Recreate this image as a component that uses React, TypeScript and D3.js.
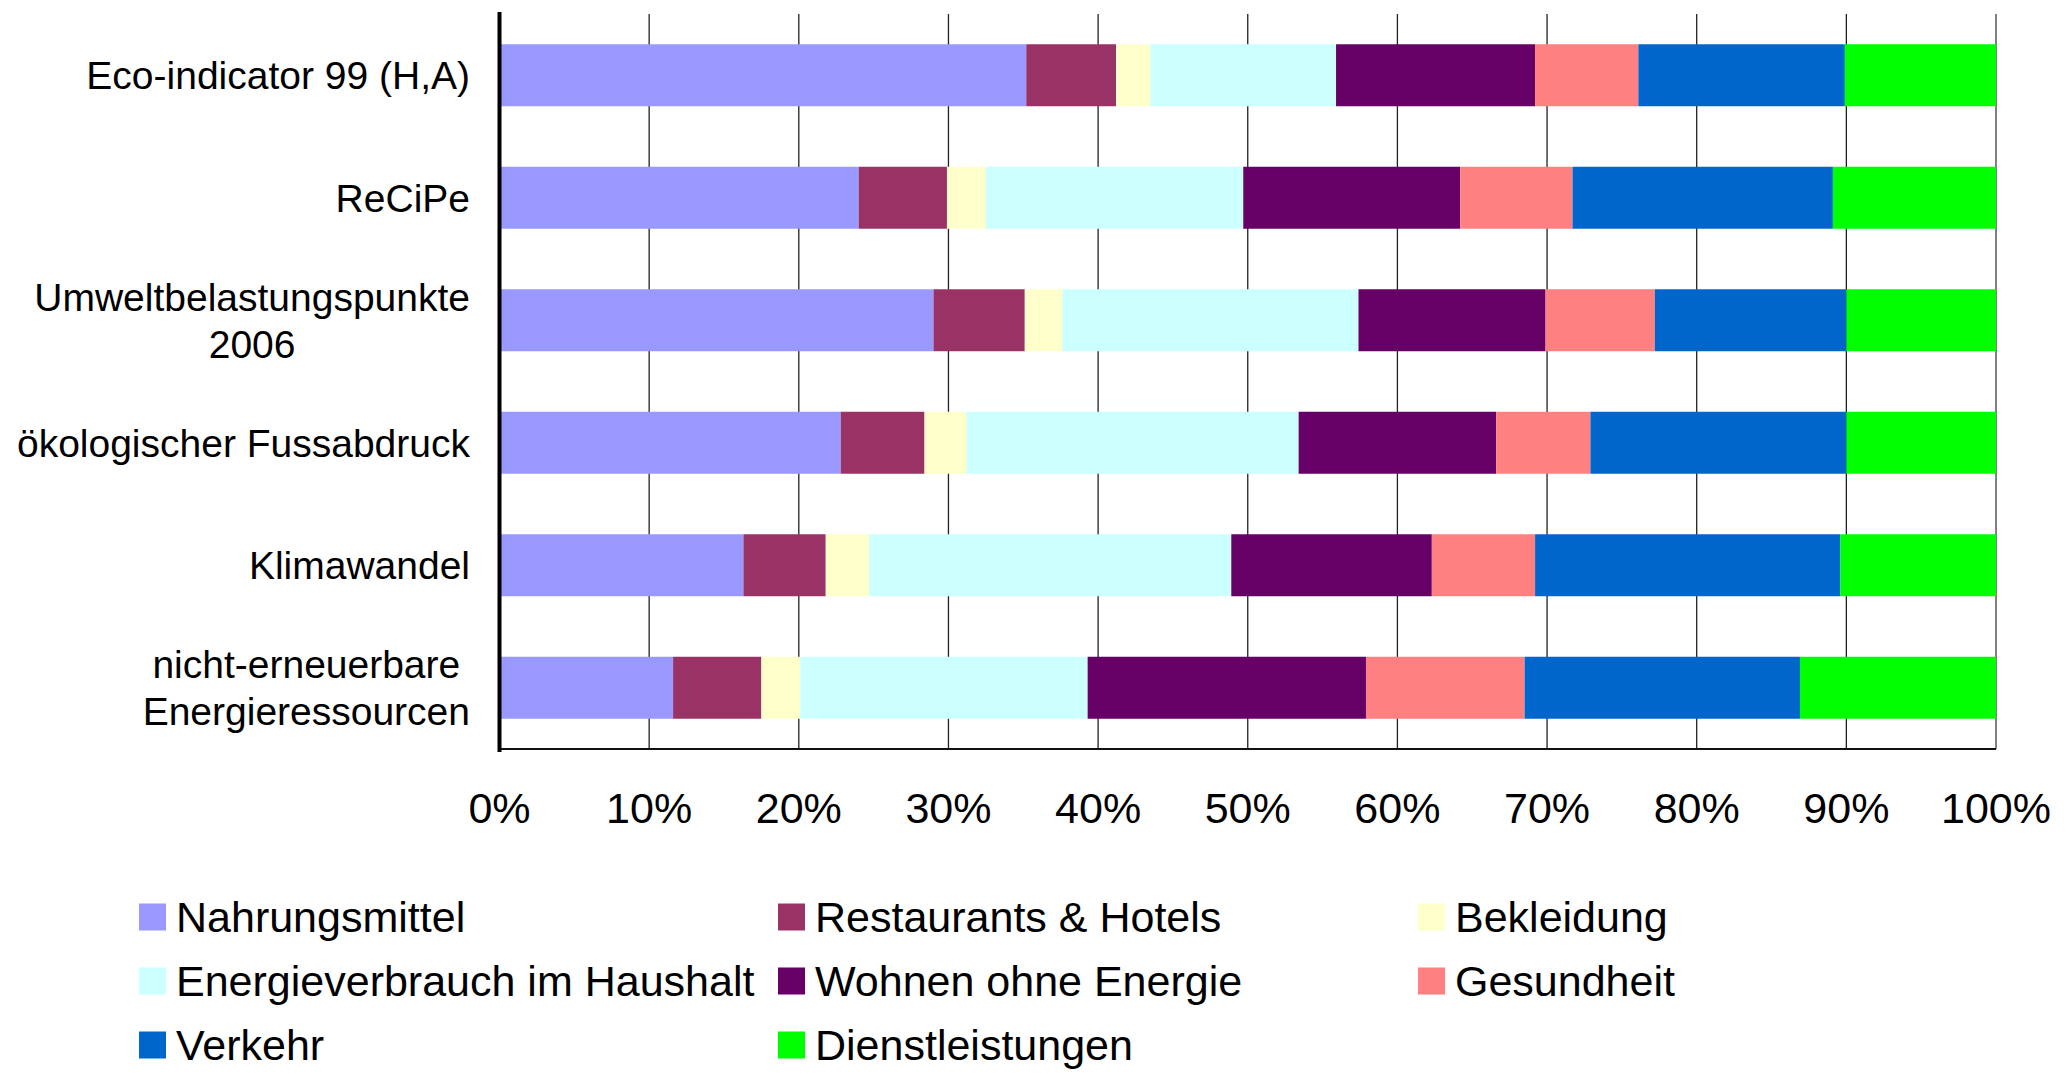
import React, { useEffect, useRef } from "react";
import * as d3 from "d3";

const categories = [
  "Eco-indicator 99 (H,A)",
  "ReCiPe",
  "Umweltbelastungspunkte\n2006",
  "ökologischer Fussabdruck",
  "Klimawandel",
  "nicht-erneuerbare\nEnergieressourcen",
];

const seriesNames = [
  "Nahrungsmittel",
  "Restaurants & Hotels",
  "Bekleidung",
  "Energieverbrauch im Haushalt",
  "Wohnen ohne Energie",
  "Gesundheit",
  "Verkehr",
  "Dienstleistungen",
];

const nahrungsmittel = [35.2, 24.0, 29.0, 22.8, 16.3, 11.6];
const restaurants = [6.0, 5.9, 6.1, 5.6, 5.5, 5.9];
const bekleidung = [2.3, 2.6, 2.5, 2.8, 2.9, 2.6];
const energie = [12.4, 17.2, 19.8, 22.2, 24.2, 19.2];
const wohnen = [13.3, 14.5, 12.5, 13.2, 13.4, 18.6];
const gesundheit = [6.9, 7.5, 7.3, 6.3, 6.9, 10.6];
const verkehr = [13.8, 17.4, 12.8, 17.1, 20.4, 18.4];
const dienstleistungen = [10.1, 10.9, 10.0, 10.0, 10.4, 13.1];

const seriesValues = [
  nahrungsmittel,
  restaurants,
  bekleidung,
  energie,
  wohnen,
  gesundheit,
  verkehr,
  dienstleistungen,
];

const colors = [
  "#9999FF",
  "#993366",
  "#FFFFCC",
  "#CCFFFF",
  "#660066",
  "#FF8080",
  "#0066CC",
  "#00FF00",
];

const xTicks = [0, 0.1, 0.2, 0.3, 0.4, 0.5, 0.6, 0.7, 0.8, 0.9, 1.0];

const W = 2067;
const H = 1074;
const FONT = "'Liberation Sans', Arial, sans-serif";

export default function App() {
  const ref = useRef<SVGSVGElement | null>(null);

  useEffect(() => {
    document.body.style.margin = "0";
    const svg = d3.select(ref.current);
    svg.selectAll("*").remove();

    const left = 499.5;
    const right = 1996;
    const top = 14;
    const bottom = 749;

    const x = d3.scaleLinear().domain([0, 1]).range([left, right]);
    const y = d3
      .scaleBand<string>()
      .domain(categories)
      .range([top, bottom])
      .paddingInner(0.494)
      .paddingOuter(0.247);

    const table = categories.map((c, i) => {
      const row: any = { cat: c };
      seriesNames.forEach((s, j) => (row[s] = seriesValues[j][i]));
      return row;
    });
    const stack = d3
      .stack<any>()
      .keys(seriesNames)
      .offset(d3.stackOffsetExpand);
    const layers = stack(table);

    // gridlines
    svg
      .append("g")
      .selectAll("line")
      .data(xTicks.slice(1))
      .join("line")
      .attr("x1", (d) => x(d))
      .attr("x2", (d) => x(d))
      .attr("y1", top)
      .attr("y2", bottom)
      .attr("stroke", (d) => (d === 1 ? "#808080" : "#222"))
      .attr("stroke-width", (d) => (d === 1 ? 2 : 1.3));

    // bars
    const g = svg.append("g");
    layers.forEach((layer, li) => {
      g.append("g")
        .attr("fill", colors[li])
        .selectAll("rect")
        .data(layer)
        .join("rect")
        .attr("x", (d) => x(d[0]))
        .attr("width", (d) => x(d[1]) - x(d[0]))
        .attr("y", (d) => y(d.data.cat) as number)
        .attr("height", y.bandwidth());
    });

    // axes lines
    svg
      .append("line")
      .attr("x1", left)
      .attr("x2", right)
      .attr("y1", bottom)
      .attr("y2", bottom)
      .attr("stroke", "#111")
      .attr("stroke-width", 2);
    svg
      .append("line")
      .attr("x1", left)
      .attr("x2", left)
      .attr("y1", top - 2)
      .attr("y2", bottom + 3)
      .attr("stroke", "#000")
      .attr("stroke-width", 4);

    // x tick labels
    const fmt = d3.format(".0%");
    svg
      .append("g")
      .selectAll("text")
      .data(xTicks)
      .join("text")
      .attr("x", (d) => x(d))
      .attr("y", 823)
      .attr("text-anchor", "middle")
      .attr("font-family", FONT)
      .attr("font-size", 43)
      .attr("fill", "#000")
      .text((d) => fmt(d));

    // category labels
    const labelRight = 470;
    const lineH = 47;
    categories.forEach((c) => {
      const lines = c.split("\n");
      const cy = (y(c) as number) + y.bandwidth() / 2;
      const grp = svg.append("g");
      const texts = lines.map((ln, k) =>
        grp
          .append("text")
          .attr("font-family", FONT)
          .attr("font-size", 39)
          .attr("fill", "#000")
          .attr(
            "y",
            cy + (k - (lines.length - 1) / 2) * lineH + 39 * 0.358
          )
          .text(ln)
      );
      if (lines.length === 1) {
        texts[0].attr("x", labelRight).attr("text-anchor", "end");
      } else {
        const widths = texts.map((t) =>
          (t.node() as SVGTextElement).getComputedTextLength()
        );
        const maxW = Math.max(...widths);
        texts.forEach((t) =>
          t.attr("x", labelRight - maxW / 2).attr("text-anchor", "middle")
        );
      }
    });

    // legend
    const legCols = [139, 778, 1418];
    const legRows = [917, 981, 1045];
    const leg = svg.append("g");
    seriesNames.forEach((s, i) => {
      const col = i % 3;
      const row = Math.floor(i / 3);
      const lx = legCols[col];
      const ly = legRows[row];
      leg
        .append("rect")
        .attr("x", lx)
        .attr("y", ly - 13.5)
        .attr("width", 27)
        .attr("height", 27)
        .attr("fill", colors[i]);
      leg
        .append("text")
        .attr("x", lx + 37)
        .attr("y", ly + 14.5)
        .attr("font-family", FONT)
        .attr("font-size", 43)
        .attr("fill", "#000")
        .text(s);
    });
  }, []);

  return (
    <svg
      ref={ref}
      width={W}
      height={H}
      viewBox={`0 0 ${W} ${H}`}
      style={{ display: "block", background: "#fff" }}
    />
  );
}
